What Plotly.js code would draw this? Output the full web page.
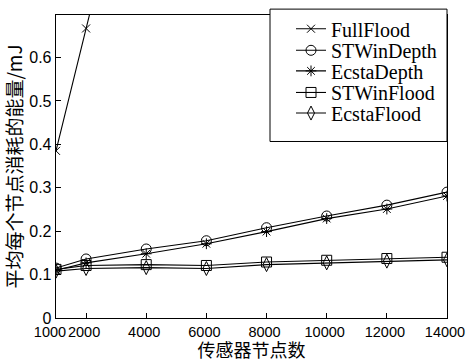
<!DOCTYPE html>
<html>
<head>
<meta charset="utf-8">
<script src="https://cdn.plot.ly/plotly-3.0.1.min.js"></script>
<style>html,body{margin:0;padding:0;background:#fff;}#chart{width:466px;height:362px;}</style>
</head>
<body>
<div id="chart"></div>
<script>
const nodes = [1000, 2000, 4000, 6000, 8000, 10000, 12000, 14000];
const fullFlood = [0.385, 0.667, 1.23, 1.85, 2.5, 3.2, 3.9, 4.6];
const stWinDepth = [0.115, 0.136, 0.159, 0.178, 0.208, 0.235, 0.260, 0.290];
const ecstaDepth = [0.110, 0.127, 0.148, 0.171, 0.199, 0.229, 0.251, 0.281];
const stWinFlood = [0.112, 0.121, 0.123, 0.121, 0.129, 0.133, 0.137, 0.140];
const ecstaFlood = [0.108, 0.114, 0.116, 0.114, 0.123, 0.127, 0.131, 0.134];
const seriesNames = ["FullFlood", "STWinDepth", "EcstaDepth", "STWinFlood", "EcstaFlood"];
const xTicks = [1000, 2000, 4000, 6000, 8000, 10000, 12000, 14000];
const xTickText = ["1000\u00a0\u00a0", "2000", "4000", "6000", "8000", "10000", "12000", "14000"];
const yTicks = [0, 0.1, 0.2, 0.3, 0.4, 0.5, 0.6];
const yTickText = ["0", "0.1", "0.2", "0.3", "0.4", "0.5", "0.6"];

const W = 466, H = 362;
const M = {l: 56, r: 19, t: 9, b: 44};
const plotW = W - M.l - M.r, plotH = H - M.t - M.b;
const px2x = p => (p - M.l) / plotW;
const py2y = p => (H - M.b - p) / plotH;

const symbols = ["x-thin-open", "circle-open", "asterisk-open", "square-open", "diamond-tall-open"];
const sizes = [8, 10, 9, 10, 10];
const allY = [fullFlood, stWinDepth, ecstaDepth, stWinFlood, ecstaFlood];
const legendRowsPx = [23, 45, 66, 88, 109];
const legendLeftPx = 291;

const traces = allY.map((ys, i) => ({
  x: nodes, y: ys, name: seriesNames[i], type: "scatter", mode: "lines+markers",
  legend: i === 0 ? "legend" : "legend" + (i + 1),
  line: {color: "#000", width: 1.1},
  marker: {symbol: symbols[i], size: sizes[i], color: "#000", line: {color: "#000", width: 1}},
  cliponaxis: true
}));

const legendFont = {family: "Liberation Serif, Times New Roman, serif", size: 20, color: "#000"};
const layout = {
  width: W, height: H,
  margin: M,
  paper_bgcolor: "#fff", plot_bgcolor: "#fff",
  showlegend: true,
  shapes: [{
    type: "rect", xref: "paper", yref: "paper",
    x0: px2x(270), x1: 1, y0: py2y(138), y1: py2y(3),
    line: {color: "#000", width: 1}, fillcolor: "#fff", layer: "above"
  }],
  xaxis: {
    range: [1000, 14000], tickvals: xTicks, ticktext: xTickText, tickangle: 0,
    ticklabeloverflow: "allow", ticklabelshift: -2,
    ticks: "inside", ticklen: 5, tickcolor: "#000", tickwidth: 1,
    showline: true, linecolor: "#000", linewidth: 1.3, mirror: true,
    showgrid: false, zeroline: false,
    tickfont: {family: "Liberation Sans, Arial, sans-serif", size: 14.5, color: "#000"},
    title: {text: "传感器节点数", font: {family: "Noto Sans CJK SC", size: 18, color: "#000"}}
  },
  yaxis: {
    range: [0, 0.698], tickvals: yTicks, ticktext: yTickText,
    ticks: "inside", ticklen: 5, tickcolor: "#000", tickwidth: 1,
    showline: true, linecolor: "#000", linewidth: 1.3, mirror: true,
    showgrid: false, zeroline: false,
    tickfont: {family: "Liberation Sans, Arial, sans-serif", size: 16, color: "#000"},
    title: {text: "平均每个节点消耗的能量/mJ", font: {family: "Noto Sans CJK SC", size: 19, color: "#000"}}
  }
};
legendRowsPx.forEach((py, i) => {
  const key = i === 0 ? "legend" : "legend" + (i + 1);
  layout[key] = {
    x: px2x(legendLeftPx), xanchor: "left", y: py2y(py), yanchor: "middle",
    bgcolor: "rgba(0,0,0,0)", borderwidth: 0,
    font: legendFont, itemwidth: 30
  };
});

Plotly.newPlot("chart", traces, layout, {displayModeBar: false, staticPlot: true});
</script>
</body>
</html>
